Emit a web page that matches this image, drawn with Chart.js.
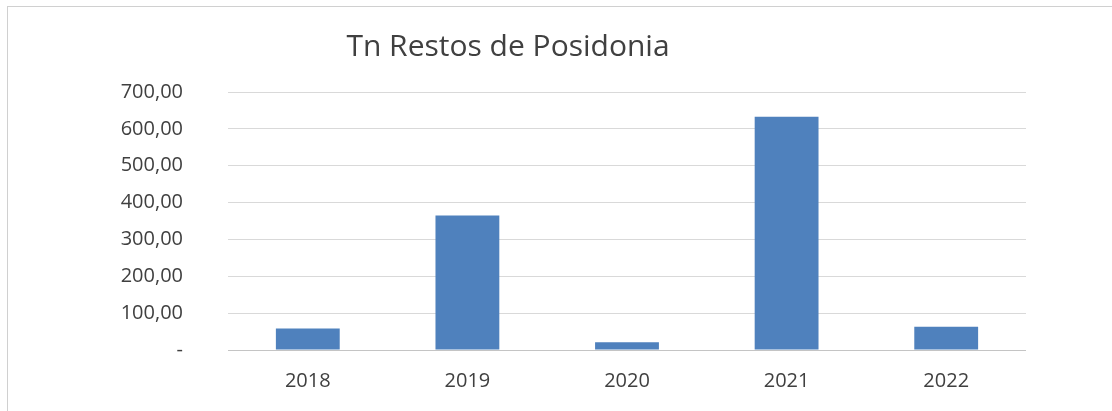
<!DOCTYPE html>
<html>
<head>
<meta charset="utf-8">
<script src="https://cdn.jsdelivr.net/npm/chart.js@4"></script>
<style>
    html, body { margin: 0; padding: 0; background: #fff; }
    #frame {
        position: absolute; left: 7px; top: 6px; right: 0; bottom: 0;
        border-left: 1px solid #d0d0d0; border-top: 1px solid #d0d0d0;
    }
    #wrap { position: absolute; left: 0; top: 0; width: 1112px; height: 411px; }
</style>
</head>
<body>
<div id="frame"></div>
<div id="wrap"><canvas id="posidoniaChart" width="1112" height="411"></canvas></div>
<script>
var TITLE = 'Tn Restos de Posidonia';
var years = ['2018', '2019', '2020', '2021', '2022'];
var tonnes = [58, 365, 21, 633, 63];
var yTicks = [0, 100, 200, 300, 400, 500, 600, 700];

var TEXT_COLOR = '#404040';
var FONT = "'Open Sans', 'Noto Sans', sans-serif";

// title is offset from the canvas centre in the original, so draw it ourselves
var titlePlugin = {
    id: 'offsetTitle',
    afterDraw: function(chart) {
        var ctx = chart.ctx;
        ctx.save();
        ctx.font = '30px ' + FONT;
        ctx.fillStyle = TEXT_COLOR;
        ctx.textAlign = 'center';
        ctx.textBaseline = 'middle';
        ctx.fillText(TITLE, 508, 47);
        ctx.restore();
    }
};

function fmtTick(v) {
    if (v === 0) return '-';
    return v.toFixed(2).replace('.', ',');
}

new Chart(document.getElementById('posidoniaChart').getContext('2d'), {
    type: 'bar',
    data: {
        labels: years,
        datasets: [{
            label: TITLE,
            data: tonnes,
            backgroundColor: '#4F81BD',
            borderWidth: 0,
            categoryPercentage: 1,
            barPercentage: 0.4
        }]
    },
    options: {
        responsive: false,
        animation: false,
        layout: { padding: { top: 92, right: 86, bottom: 0, left: 0 } },
        plugins: {
            legend: { display: false },
            title: { display: false },
            tooltip: { enabled: false }
        },
        scales: {
            x: {
                grid: { display: false, drawTicks: false },
                border: { display: false },
                ticks: { color: TEXT_COLOR, font: { family: FONT, size: 20 }, padding: 19 },
                afterFit: function(scale) { scale.height = 61; }
            },
            y: {
                min: 0,
                max: 700,
                afterBuildTicks: function(scale) {
                    scale.ticks = yTicks.map(function(v) { return { value: v }; });
                },
                grid: {
                    drawTicks: false,
                    color: function(c) { return c.tick && c.tick.value === 0 ? '#c4c4c4' : '#d9d9d9'; },
                    lineWidth: 1
                },
                border: { display: false },
                ticks: {
                    color: TEXT_COLOR,
                    font: { family: FONT, size: 20 },
                    padding: 45,
                    callback: function(value) { return fmtTick(value); }
                },
                afterFit: function(scale) { scale.width = 228; }
            }
        }
    },
    plugins: [titlePlugin]
});
</script>
</body>
</html>
